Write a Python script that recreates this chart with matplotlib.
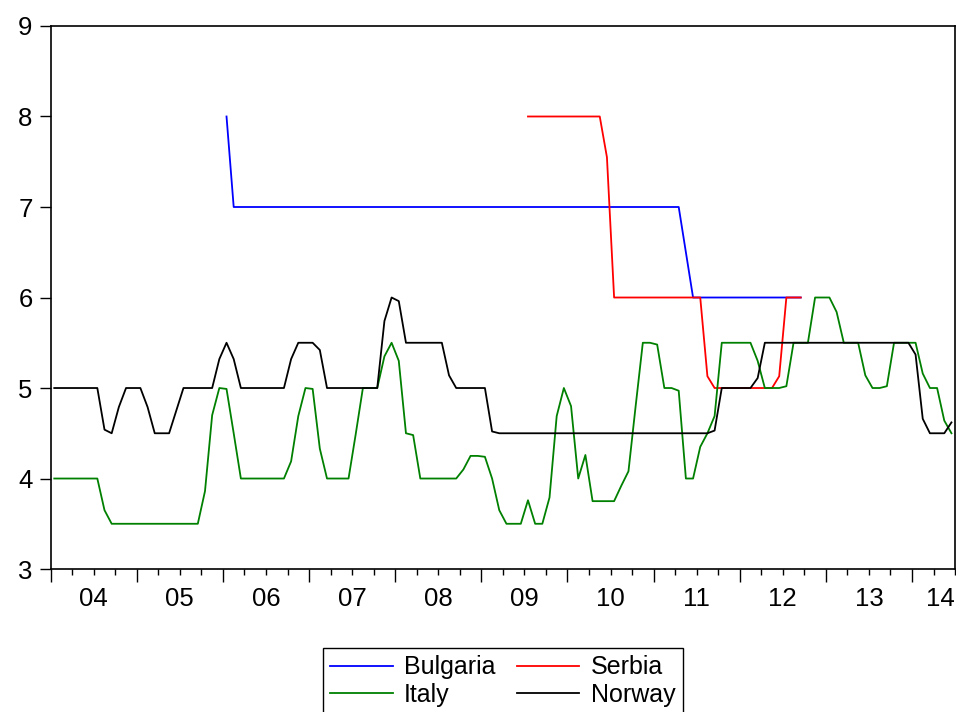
import numpy as np
import pandas as pd
import matplotlib
matplotlib.use("Agg")
import matplotlib.pyplot as plt
from matplotlib.ticker import MultipleLocator

# Datos mensuales (tasas); una fila por año
start_all = "2004-01"
bulgaria_start = "2006-01"
serbia_start = "2009-07"

norway = [
    5, 5, 5, 5, 5, 5, 5, 4.54, 4.5, 4.79, 5, 5,
    5, 4.79, 4.5, 4.5, 4.5, 4.75, 5, 5, 5, 5, 5, 5.32,
    5.5, 5.32, 5, 5, 5, 5, 5, 5, 5, 5.32, 5.5, 5.5,
    5.5, 5.42, 5, 5, 5, 5, 5, 5, 5, 5, 5.74, 6.0,
    5.96, 5.5, 5.5, 5.5, 5.5, 5.5, 5.5, 5.14, 5, 5, 5, 5,
    5, 4.52, 4.5, 4.5, 4.5, 4.5, 4.5, 4.5, 4.5, 4.5, 4.5, 4.5,
    4.5, 4.5, 4.5, 4.5, 4.5, 4.5, 4.5, 4.5, 4.5, 4.5, 4.5, 4.5,
    4.5, 4.5, 4.5, 4.5, 4.5, 4.5, 4.5, 4.5, 4.53, 5, 5, 5,
    5, 5, 5.11, 5.5, 5.5, 5.5, 5.5, 5.5, 5.5, 5.5, 5.5, 5.5,
    5.5, 5.5, 5.5, 5.5, 5.5, 5.5, 5.5, 5.5, 5.5, 5.5, 5.5, 5.5,
    5.37, 4.66, 4.5, 4.5, 4.5, 4.62,
]

italy = [
    4, 4, 4, 4, 4, 4, 4, 3.65, 3.5, 3.5, 3.5, 3.5,
    3.5, 3.5, 3.5, 3.5, 3.5, 3.5, 3.5, 3.5, 3.5, 3.86, 4.70, 5.0,
    4.99, 4.5, 4, 4, 4, 4, 4, 4, 4, 4.19, 4.69, 5.0,
    4.99, 4.33, 4, 4, 4, 4, 4.49, 5, 5, 5, 5.35, 5.5,
    5.30, 4.5, 4.48, 4, 4, 4, 4, 4, 4, 4.10, 4.25, 4.25,
    4.24, 4.0, 3.65, 3.5, 3.5, 3.5, 3.76, 3.5, 3.5, 3.79, 4.69, 5.0,
    4.8, 4.0, 4.26, 3.75, 3.75, 3.75, 3.75, 3.92, 4.08, 4.8, 5.5, 5.5,
    5.48, 5.0, 5.0, 4.97, 4.0, 4.0, 4.35, 4.5, 4.69, 5.5, 5.5, 5.5,
    5.5, 5.5, 5.30, 5.0, 5.0, 5.0, 5.02, 5.5, 5.5, 5.5, 6.0, 6.0,
    6.0, 5.84, 5.5, 5.5, 5.5, 5.14, 5.0, 5.0, 5.02, 5.5, 5.5, 5.5,
    5.5, 5.16, 5.0, 5.0, 4.64, 4.5,
]

bulgaria = [
    8, 7, 7, 7, 7, 7, 7, 7, 7, 7, 7, 7,
    7, 7, 7, 7, 7, 7, 7, 7, 7, 7, 7, 7,
    7, 7, 7, 7, 7, 7, 7, 7, 7, 7, 7, 7,
    7, 7, 7, 7, 7, 7, 7, 7, 7, 7, 7, 7,
    7, 7, 7, 7, 7, 7, 7, 7, 7, 7, 7, 7,
    7, 7, 7, 7, 6.5, 6, 6, 6, 6, 6, 6, 6,
    6, 6, 6, 6, 6, 6, 6, 6, 6,
]

serbia = [
    8, 8, 8, 8, 8, 8,
    8, 8, 8, 8, 8, 7.55, 6, 6, 6, 6, 6, 6,
    6, 6, 6, 6, 6, 6, 6, 5.13, 5, 5, 5, 5,
    5, 5, 5, 5, 5, 5.13, 6, 6, 6,
]

year_labels = ["04", "05", "06", "07", "08", "09", "10", "11", "12", "13", "14"]


def to_decimal(start, n):
    p = pd.period_range(start, periods=n, freq="M")
    return p.year + (p.month - 0.5) / 12.0


plt.rcParams["font.family"] = ["Liberation Sans", "DejaVu Sans"]

fig = plt.figure(figsize=(9.56, 7.12), dpi=100)
ax = fig.add_axes([0.053, 0.2008, 0.946, 0.7627])

lb, = ax.plot(to_decimal(bulgaria_start, len(bulgaria)), bulgaria, color="#0000ff", lw=1.3, label="Bulgaria")
ls, = ax.plot(to_decimal(serbia_start, len(serbia)), serbia, color="#ff0000", lw=1.3, label="Serbia")
li, = ax.plot(to_decimal(start_all, len(italy)), italy, color="#008000", lw=1.3, label="Italy")
ln, = ax.plot(to_decimal(start_all, len(norway)), norway, color="black", lw=1.3, label="Norway")

ax.set_xlim(2004, 2014.5)
ax.set_ylim(3, 9)
ax.set_yticks(range(3, 10))
ax.tick_params(axis="y", labelsize=18.5, length=8, width=1, pad=5)

# ticks de años (largos) y trimestres (cortos), sin etiquetas
ax.set_xticks(range(2004, 2015))
ax.xaxis.set_minor_locator(MultipleLocator(0.25))
ax.tick_params(axis="x", which="major", length=9, width=1, labelbottom=False)
ax.tick_params(axis="x", which="minor", length=4.5, width=1)

# etiquetas de año centradas en cada año
sec = ax.secondary_xaxis("bottom")
label_pos = [y + 0.5 for y in range(2004, 2014)] + [2014.33]
sec.set_xticks(label_pos, year_labels)
sec.tick_params(length=0, labelsize=18.5, pad=13)
sec.spines["bottom"].set_visible(False)

for s in ax.spines.values():
    s.set_linewidth(1.2)

fig.legend([lb, li, ls, ln], ["Bulgaria", "Italy", "Serbia", "Norway"],
           ncol=2, loc="upper center", bbox_to_anchor=(0.526, 0.09),
           borderaxespad=0, fontsize=18, frameon=True, fancybox=False,
           edgecolor="black", handlelength=2.5, handletextpad=0.45,
           columnspacing=0.85, labelspacing=0.15, borderpad=0.3, framealpha=1)
fig.legends[0].get_frame().set_linewidth(1.0)

fig.savefig("out.png", dpi=100)
